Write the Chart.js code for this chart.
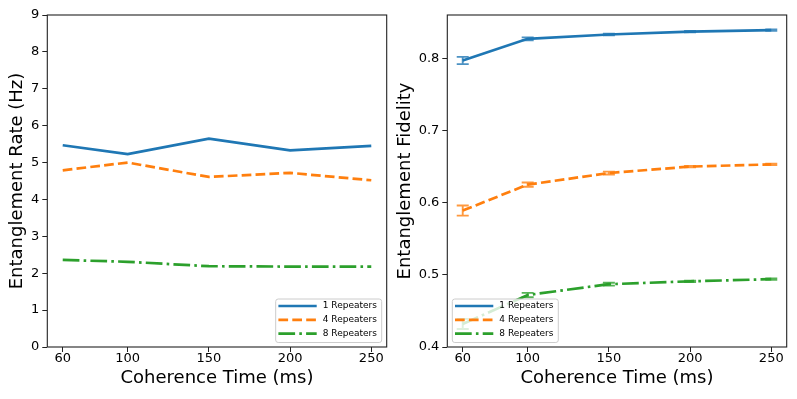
<!DOCTYPE html>
<html>
<head>
<meta charset="utf-8">
<script src="https://cdn.jsdelivr.net/npm/chart.js@4.4.0/dist/chart.umd.min.js"></script>
<style>
  body { margin: 0; background: #fff; width: 797px; height: 399px; position: relative; overflow: hidden; }
  canvas { position: absolute; top: 0; }
  #rateChart { left: 0; }
  #fidChart { left: 395px; }
</style>
</head>
<body>
<canvas id="rateChart" width="400" height="399"></canvas>
<canvas id="fidChart" width="402" height="399"></canvas>
<script>
// data
var coherenceTimes = [60, 100, 150, 200, 250];
var seriesNames = ["1 Repeaters", "4 Repeaters", "8 Repeaters"];

var rate1 = [5.47, 5.23, 5.65, 5.33, 5.45];
var rate4 = [4.79, 5.00, 4.61, 4.72, 4.52];
var rate8 = [2.36, 2.31, 2.19, 2.18, 2.18];

var fid1 = [0.797, 0.827, 0.833, 0.837, 0.839];
var fid4 = [0.589, 0.625, 0.641, 0.650, 0.653];
var fid8 = [0.432, 0.472, 0.487, 0.491, 0.494];

var fidErr1 = [0.005, 0.002, 0.001, 0.001, 0.001];
var fidErr4 = [0.007, 0.003, 0.002, 0.001, 0.001];
var fidErr8 = [0.007, 0.003, 0.002, 0.001, 0.001];

var rateTicks = [0, 1, 2, 3, 4, 5, 6, 7, 8, 9];
var fidTicks = [0.4, 0.5, 0.6, 0.7, 0.8];

var FONT = "'DejaVu Sans', sans-serif";
var colors = ["#1f77b4", "#ff7f0e", "#2ca02c"];
var dashes = [[], [9.7, 4.2], [16.7, 4.2, 2.6, 4.2]];

function points(vals) {
  return coherenceTimes.map(function (t, i) { return { x: t, y: vals[i] }; });
}

function makeDatasets(series, errs) {
  return series.map(function (vals, i) {
    return {
      label: seriesNames[i],
      data: points(vals),
      errors: errs ? errs[i] : null,
      borderColor: colors[i],
      backgroundColor: colors[i],
      borderWidth: 2.7,
      borderDash: dashes[i],
      borderCapStyle: "butt",
      pointRadius: 0,
      fill: false,
      tension: 0
    };
  });
}

// error bars with caps
var errorBars = {
  id: "errorBars",
  afterDatasetsDraw: function (chart) {
    var ctx = chart.ctx, xs = chart.scales.x, ys = chart.scales.y;
    ctx.save();
    ctx.beginPath();
    ctx.rect(chart.chartArea.left, chart.chartArea.top, chart.chartArea.width, chart.chartArea.height);
    ctx.clip();
    chart.data.datasets.forEach(function (ds) {
      if (!ds.errors) return;
      ctx.strokeStyle = ds.borderColor;
      ctx.globalAlpha = 0.8;
      ctx.lineWidth = 1.9;
      ctx.setLineDash([]);
      ds.data.forEach(function (p, j) {
        var e = ds.errors[j];
        var x = xs.getPixelForValue(p.x);
        var y1 = ys.getPixelForValue(p.y - e);
        var y2 = ys.getPixelForValue(p.y + e);
        ctx.beginPath();
        ctx.moveTo(x, y1); ctx.lineTo(x, y2);
        ctx.moveTo(x - 6, y1); ctx.lineTo(x + 6, y1);
        ctx.moveTo(x - 6, y2); ctx.lineTo(x + 6, y2);
        ctx.stroke();
      });
    });
    ctx.restore();
  }
};

// axes box + matplotlib-like legend
var frameLegend = {
  id: "frameLegend",
  afterDraw: function (chart, args, opts) {
    var ctx = chart.ctx, a = chart.chartArea;
    ctx.save();
    ctx.strokeStyle = "#222";
    ctx.lineWidth = 1.1;
    ctx.strokeRect(a.left, a.top, a.right - a.left, a.bottom - a.top);

    var w = 106, h = 43.5;
    var bx = opts.side === "right" ? a.right - 5 - w : a.left + 5;
    var by = a.bottom - 4.5 - h;
    ctx.beginPath();
    if (ctx.roundRect) ctx.roundRect(bx, by, w, h, 2.5); else ctx.rect(bx, by, w, h);
    ctx.fillStyle = "rgba(255,255,255,0.8)";
    ctx.fill();
    ctx.strokeStyle = "#cccccc";
    ctx.lineWidth = 1;
    ctx.stroke();

    ctx.font = "9px " + FONT;
    ctx.textBaseline = "middle";
    ctx.textAlign = "left";
    chart.data.datasets.forEach(function (ds, i) {
      var cy = by + 7 + i * 13.8;
      ctx.strokeStyle = ds.borderColor;
      ctx.lineWidth = ds.borderWidth;
      ctx.lineCap = "butt";
      ctx.setLineDash(ds.borderDash || []);
      ctx.beginPath();
      ctx.moveTo(bx + 2.7, cy);
      ctx.lineTo(bx + 41, cy);
      ctx.stroke();
      ctx.setLineDash([]);
      ctx.fillStyle = "#000";
      ctx.fillText(ds.label, bx + 47, cy);
    });
    ctx.restore();
  }
};

function makeChart(id, cfg) {
  return new Chart(document.getElementById(id).getContext("2d"), {
    type: "line",
    data: { datasets: cfg.datasets },
    plugins: [errorBars, frameLegend],
    options: {
      responsive: false,
      animation: false,
      devicePixelRatio: 1,
      layout: { padding: { left: 0, right: cfg.padRight, top: 15, bottom: 0 } },
      plugins: {
        legend: { display: false },
        tooltip: { enabled: false },
        frameLegend: { side: cfg.legendSide }
      },
      scales: {
        x: {
          type: "linear",
          min: 50.5,
          max: 259.5,
          afterBuildTicks: function (s) {
            s.ticks = coherenceTimes.map(function (v) { return { value: v }; });
          },
          afterFit: function (s) { s.height = 52; },
          border: { display: false },
          grid: { display: true, drawOnChartArea: false, drawTicks: true, tickLength: 5, tickColor: "#222", tickWidth: 1 },
          ticks: { font: { family: FONT, size: 13, lineHeight: 1 }, color: "#000", padding: 0, maxRotation: 0, autoSkip: false },
          title: { display: true, text: "Coherence Time (ms)", font: { family: FONT, size: 18 }, color: "#000", padding: { top: 0, bottom: 10 } }
        },
        y: {
          type: "linear",
          min: cfg.yMin,
          max: cfg.yMax,
          afterBuildTicks: function (s) {
            s.ticks = cfg.yTicks.map(function (v) { return { value: v }; });
          },
          afterFit: function (s) { s.width = cfg.yWidth; },
          border: { display: false },
          grid: { display: true, drawOnChartArea: false, drawTicks: true, tickLength: 5, tickColor: "#222", tickWidth: 1 },
          ticks: {
            font: { family: FONT, size: 13 },
            color: "#000",
            padding: 3,
            callback: cfg.tickFmt
          },
          title: { display: true, text: cfg.yTitle, font: { family: FONT, size: 18 }, color: "#000", padding: { top: cfg.yTitlePad, bottom: 0 } }
        }
      }
    }
  });
}

makeChart("rateChart", {
  datasets: makeDatasets([rate1, rate4, rate8], null),
  padRight: 13.3,
  yMin: 0, yMax: 9,
  yTicks: rateTicks,
  yWidth: 47.3,
  yTitle: "Entanglement Rate (Hz)",
  yTitlePad: 7,
  legendSide: "right",
  tickFmt: function (v) { return String(v); }
});

makeChart("fidChart", {
  datasets: makeDatasets([fid1, fid4, fid8], [fidErr1, fidErr4, fidErr8]),
  padRight: 10.3,
  yMin: 0.4, yMax: 0.86,
  yTicks: fidTicks,
  yWidth: 52.3,
  yTitle: "Entanglement Fidelity",
  yTitlePad: 0,
  legendSide: "left",
  tickFmt: function (v) { return Number(v).toFixed(1); }
});
</script>
</body>
</html>
